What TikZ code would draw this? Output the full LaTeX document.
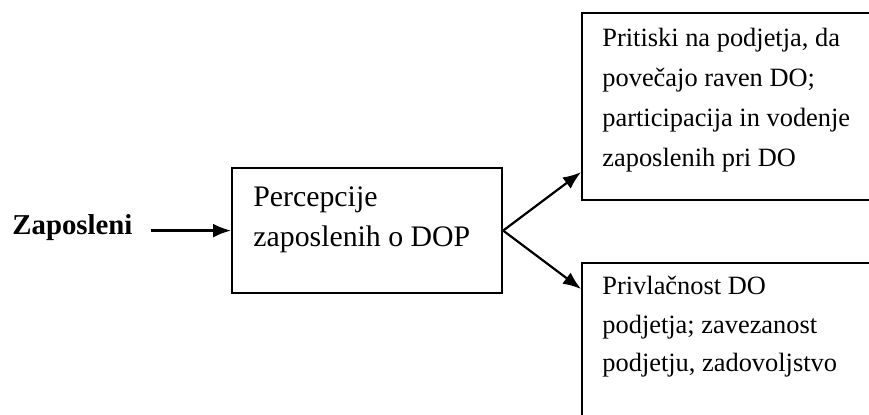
\documentclass[tikz,border=0pt]{standalone}
\usepackage{fontspec}
\setmainfont{Liberation Serif}
\usetikzlibrary{arrows.meta}

\begin{document}
\begin{tikzpicture}[x=0.5pt,y=-0.5pt,box/.style={draw,rectangle,line
        width=1.1pt,inner sep=0pt,anchor=north west},txt/.style={align=left,inner
        sep=0pt,anchor=base west,font=\fontsize{13.2}{20}\selectfont}]

    \useasboundingbox (0,0) rectangle (869,415);
    \clip (0,0) rectangle (869,415);

    % the boxes
    \tikzstyle{link}=[draw,line width=1.1pt,-{Latex[length=9pt,width=7pt]}]

    \node[box,minimum width=135pt,minimum height=62.5pt] (percep) at (231,167) {};
    \node[box,minimum width=150pt,minimum height=93.5pt] (press) at (581,12) {};
    \node[box,minimum width=150pt,minimum height=90pt] (attr) at (581,262) {};

    % the texts (anchored on their last line)
    \node[txt,font=\fontsize{14.4}{20}\selectfont\bfseries] (zap) at (12,235) {Zaposleni};
    \node[txt,font=\fontsize{14.9}{20}\selectfont] (percep-t) at ([shift={(11pt,-40pt)}]percep.north west)
      {Percepcije\\zaposlenih o DOP};
    \node[txt] (press-t) at ([shift={(10.5pt,-77.5pt)}]press.north west)
      {Pritiski na podjetja, da\\povečajo raven DO;\\participacija in vodenje\\zaposlenih pri DO};
    \node[txt,font=\fontsize{13.2}{19.25}\selectfont] (attr-t) at ([shift={(10.5pt,-55pt)}]attr.north west)
      {Privlačnost DO\\podjetja; zavezanost\\podjetju, zadovoljstvo};

    % the arrows
    \draw[link] ([xshift=9pt]zap.east |- percep.west) -- (percep.west);
    \draw[link] (percep.east) -- ([yshift=14.5pt]press.south west);
    \draw[link] (percep.east) -- ([yshift=-13.5pt]attr.north west);

  \end{tikzpicture}
\end{document}
